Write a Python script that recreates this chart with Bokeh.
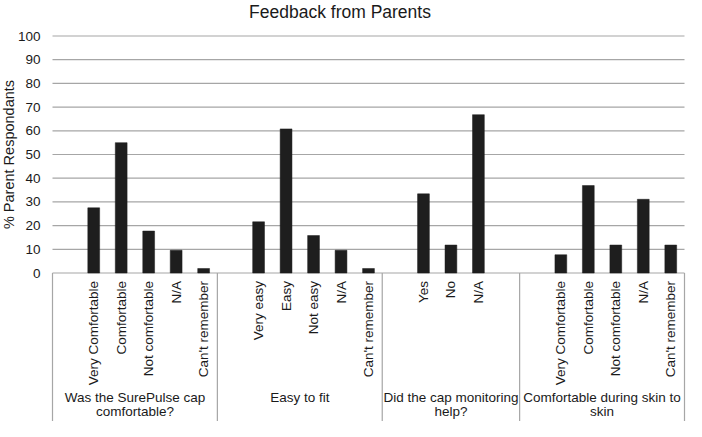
import numpy as np
from bokeh.plotting import figure
from bokeh.models import Range1d
from bokeh.core.properties import value
from bokeh.embed import file_html
from bokeh.resources import INLINE

# ---- data ----
title_text = "Feedback from Parents"
y_label = "% Parent Respondants"
y_ticks = [0, 10, 20, 30, 40, 50, 60, 70, 80, 90, 100]

group_labels = ["Was the SurePulse cap\ncomfortable?", "Easy to fit",
                "Did the cap monitoring\nhelp?", "Comfortable during skin to\nskin"]
# categories per group ("" = empty slot)
cats_g1 = ["", "Very Comfortable", "Comfortable", "Not comfortable", "N/A", "Can't remember"]
cats_g2 = ["", "Very easy", "Easy", "Not easy", "N/A", "Can't remember"]
cats_g3 = ["", "Yes", "No", "N/A", ""]
cats_g4 = ["", "Very Comfortable", "Comfortable", "Not comfortable", "N/A", "Can't remember"]
vals_g1 = [None, 27.5, 55.0, 17.7, 9.6, 1.9]
vals_g2 = [None, 21.6, 60.8, 15.8, 9.6, 1.9]
vals_g3 = [None, 33.4, 11.8, 66.8, None]
vals_g4 = [None, 7.7, 36.9, 11.8, 31.1, 11.8]

groups_cats = [cats_g1, cats_g2, cats_g3, cats_g4]
groups_vals = [vals_g1, vals_g2, vals_g3, vals_g4]

# ---- layout constants (pixels) ----
W, H = 686, 421
plot_left_px = 52
plot_right_px = 684
n_slots = sum(len(c) for c in groups_cats)
S = (plot_right_px - plot_left_px) / n_slots      # px per slot
zero_px = 272.5                                   # from top
top100_px = 35.5
K = (zero_px - top100_px) / 100.0                 # px per unit

x_start = -plot_left_px / S
x_end = n_slots + (W - plot_right_px) / S
y_end = 100 + top100_px / K
y_start = -(H - zero_px) / K

def px_to_y(px_from_top):
    return (zero_px - px_from_top) / K

def px_to_x(px_from_left):
    return (px_from_left - plot_left_px) / S

p = figure(width=W, height=H, output_backend="svg", toolbar_location=None,
           x_range=Range1d(x_start, x_end), y_range=Range1d(y_start, y_end),
           min_border=0, min_border_left=0, min_border_right=0,
           min_border_top=0, min_border_bottom=0)
p.axis.visible = False
p.grid.visible = False
p.outline_line_color = None
p.background_fill_color = "white"
p.border_fill_color = "white"

FONT = value("Liberation Sans")
TXT = "#1a1a1a"
GRID = "#a6a6a6"

# gridlines
gy = [t for t in y_ticks if t > 0]
p.segment(x0=[0] * len(gy), x1=[n_slots] * len(gy), y0=gy, y1=gy,
          line_color=GRID, line_width=1.2)
# axis line at 0
p.segment(x0=[0], x1=[n_slots], y0=[0], y1=[0], line_color=GRID, line_width=1.2)

# bars and labels
bx, btop, lx, ltxt = [], [], [], []
bounds = [0]
i = 0
for cats, vals in zip(groups_cats, groups_vals):
    for c, v in zip(cats, vals):
        if v is not None:
            bx.append(i + 0.5)
            btop.append(v)
        if c:
            lx.append(i + 0.5)
            ltxt.append(c)
        i += 1
    bounds.append(i)

p.vbar(x=bx, top=btop, bottom=0, width=0.43, fill_color="#1e1e1e",
       line_color="#1e1e1e", line_width=0.5)

# separators below axis
p.segment(x0=bounds, x1=bounds, y0=[0] * len(bounds), y1=[y_start] * len(bounds),
          line_color=GRID, line_width=1.2)

# category tick labels (vertical)
p.text(x=lx, y=[px_to_y(zero_px + 8)] * len(lx), text=ltxt, angle=np.pi / 2,
       text_align="right", text_baseline="middle", text_font=FONT,
       text_font_size="13.5px", text_color=TXT)

# group labels
gx, gyv, gt = [], [], []
for k, lab in enumerate(group_labels):
    cx = (bounds[k] + bounds[k + 1]) / 2
    for j, line in enumerate(lab.split("\n")):
        gx.append(cx)
        gyv.append(px_to_y(zero_px + 124 + 14.5 * j))
        gt.append(line)
p.text(x=gx, y=gyv, text=gt, text_align="center", text_baseline="middle",
       text_font=FONT, text_font_size="13.5px", text_color=TXT)

# y tick labels
p.text(x=[px_to_x(40)] * len(y_ticks), y=y_ticks, text=[str(t) for t in y_ticks],
       text_align="right", text_baseline="middle", text_font=FONT,
       text_font_size="13.5px", text_color=TXT)

# y axis label
p.text(x=[px_to_x(8.5)], y=[50], text=[y_label], angle=np.pi / 2,
       text_align="center", text_baseline="middle", text_font=FONT,
       text_font_size="14.5px", text_color=TXT)

# title
p.text(x=[px_to_x(339.5)], y=[px_to_y(11.5)], text=[title_text],
       text_align="center", text_baseline="middle", text_font=FONT,
       text_font_size="17.5px", text_color=TXT)

open("out.html", "w").write(file_html(p, INLINE))
